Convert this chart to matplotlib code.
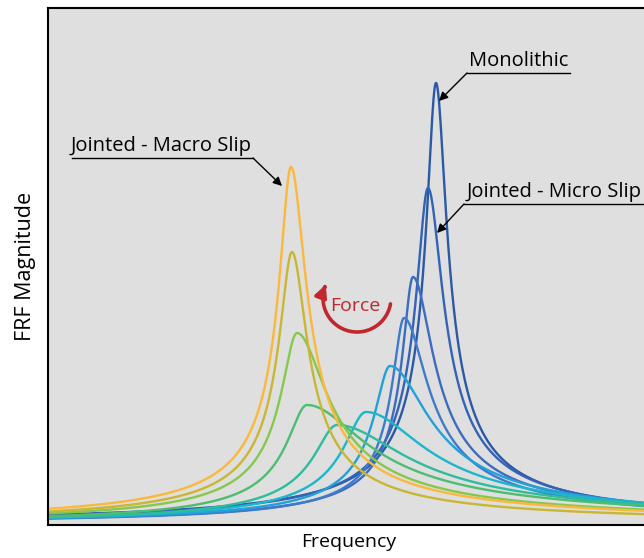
import numpy as np
import matplotlib.pyplot as plt
from matplotlib.path import Path
from matplotlib.patches import FancyArrowPatch

plt.rcParams['font.family'] = ['Open Sans', 'DejaVu Sans']

# one curve per force level, monolithic first, macro slip last
peak_freq = [436, 428, 413, 404, 390, 366, 337, 307, 297, 292, 291]
peak_mag = [442, 337, 248, 207, 159, 113, 100, 120, 192, 273, 358]
width_left = [9, 11, 10, 11, 15, 21, 22, 19, 15, 12, 11]
width_right = [10, 14, 19, 22, 36, 55, 65, 55, 28, 14, 14]
colors = ['#2b59a8', '#3462b6', '#3b6cc0', '#3f7acb', '#22a0da', '#1db6cc',
          '#2fbc9c', '#4ebd72', '#86c84d', '#c9b633', '#fbb83c']

freq = np.linspace(48, 650, 2000)

fig = plt.figure(figsize=(6.44, 5.58), dpi=100)
ax = fig.add_axes([48 / 644, 33 / 558, 602 / 644, 517 / 558])
ax.set_facecolor('#dedfde')

for f0, h, wl, wr, c in zip(peak_freq, peak_mag, width_left, width_right, colors):
    w = np.where(freq < f0, wl, wr)
    mag = h / np.sqrt(1 + ((freq - f0) / w) ** 2)
    ax.plot(freq, mag, color=c, lw=1.7, solid_capstyle='round')

ax.set_xlim(48, 650)
ax.set_ylim(0, 517)
ax.set_xticks([])
ax.set_yticks([])
for s in ax.spines.values():
    s.set_linewidth(1.5)
    s.set_color('black')

ax.set_xlabel('Frequency', fontsize=14, labelpad=6)
ax.set_ylabel('FRF Magnitude', fontsize=15.5, labelpad=9)

# labels with underline and arrow
def label(text, x0, x1, y, target, tx, ha):
    ax.text(tx, y + 2, text, fontsize=14.5, ha=ha, va='bottom')
    ax.plot([x0, x1], [y, y], color='black', lw=1, clip_on=False)
    start = (x0, y) if target[0] < x0 else (x1, y)
    ax.annotate('', xy=target, xytext=start,
                arrowprops=dict(arrowstyle='-|>', color='black', lw=1,
                                mutation_scale=13, shrinkA=0, shrinkB=0))

label('Monolithic', 467, 570, 452, (439, 424), 519, 'center')
label('Jointed - Micro Slip', 464, 680, 321, (437, 292), 467, 'left')
label('Jointed - Macro Slip', 72, 253, 367, (282, 339), 71, 'left')

# curved "Force" arrow
theta = np.radians(np.linspace(-10, -203, 60))
arc = np.column_stack([357 + 34 * np.cos(theta), 227 + 34 * np.sin(theta)])
ax.add_patch(FancyArrowPatch(path=Path(arc), arrowstyle='-|>', color='#c1272d',
                             lw=2.6, mutation_scale=18, transform=ax.transData))
ax.text(355, 219, 'Force', color='#c1272d', fontsize=14, ha='center', va='center')

fig.savefig('out.png', dpi=100)
